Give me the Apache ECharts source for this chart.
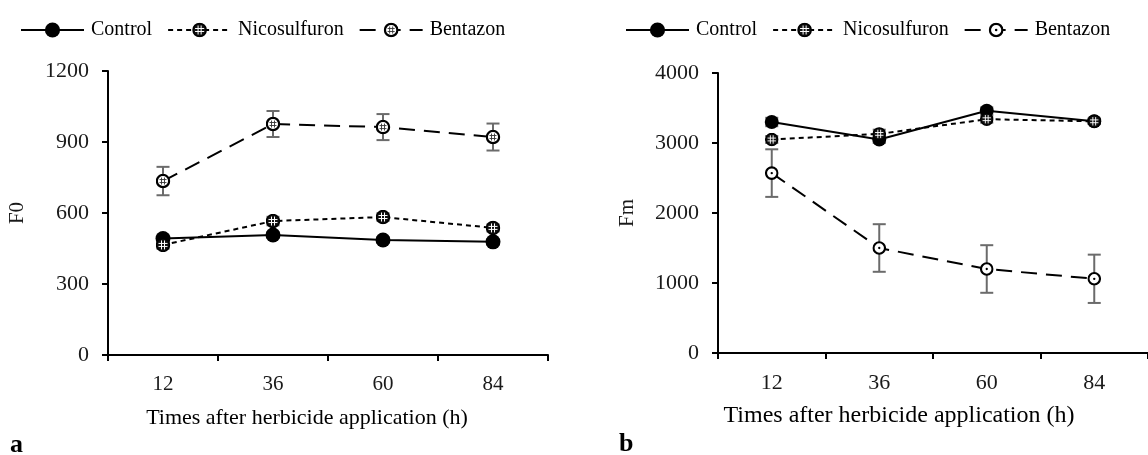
<!DOCTYPE html>
<html>
<head>
<meta charset="utf-8">
<script src="https://cdn.jsdelivr.net/npm/echarts@6/dist/echarts.min.js"></script>
<style>
html, body { margin: 0; padding: 0; background: #fff; }
#main { width: 1148px; height: 455px; }
</style>
</head>
<body>
<div id="main"></div>
<script>
// hours after application
var cats = ['12', '36', '60', '84'];

// panel a : F0
var f0Control = [492, 507, 486, 478];
var f0Nico = [465, 566, 583, 537];
var f0Benta = [735, 976, 963, 921];
var f0ControlErr = [14, 12, 12, 12];
var f0NicoErr = [16, 18, 16, 15];
var f0BentaErr = [60, 55, 55, 57];
var f0Ticks = { min: 0, max: 1200, interval: 300 };

// panel b : Fm
var fmControl = [3300, 3050, 3460, 3310];
var fmNico = [3050, 3130, 3340, 3310];
var fmBenta = [2570, 1500, 1200, 1060];
var fmControlErr = [60, 50, 50, 40];
var fmNicoErr = [50, 60, 50, 40];
var fmBentaErr = [340, 340, 340, 345];
var fmTicks = { min: 0, max: 4000, interval: 1000 };

var FONT = 'Liberation Serif';

var svgSym = function (body) {
    var s = "<svg xmlns='http://www.w3.org/2000/svg' width='30' height='30' viewBox='0 0 30 30'>" + body + "</svg>";
    return 'image://data:image/svg+xml;charset=utf-8,' + encodeURIComponent(s);
};
var hashLines = function (color, w, a, b) {
    return "<path d='M12 " + a + " V" + b + " M18 " + a + " V" + b + " M" + a + " 12 H" + b + " M" + a + " 18 H" + b + "' stroke='" + color + "' stroke-width='" + w + "' fill='none'/>";
};
var nicoSym = svgSym("<circle cx='15' cy='15' r='13' fill='#111' stroke='#000' stroke-width='3'/>" + hashLines('#fff', 2, 6, 24));
var bentaSymA = svgSym("<circle cx='15' cy='15' r='12.3' fill='#fff' stroke='#000' stroke-width='4.5'/>" + hashLines('#333', 1.8, 8, 22));
var bentaSymB = svgSym("<circle cx='15' cy='15' r='12.3' fill='#fff' stroke='#000' stroke-width='4.5'/><circle cx='15' cy='15' r='2.5' fill='#000'/>");

var errData = function (vals, errs) {
    var out = [];
    for (var i = 0; i < vals.length; i++) {
        out.push([i, vals[i] - errs[i], vals[i] + errs[i]]);
    }
    return out;
};

var renderErr = function (params, api) {
    var x = api.value(0);
    var top = api.coord([x, api.value(2)]);
    var bot = api.coord([x, api.value(1)]);
    var hw = 6.5;
    var st = { stroke: '#6b6b6b', lineWidth: 2 };
    return {
        type: 'group',
        children: [
            { type: 'line', shape: { x1: top[0], y1: top[1], x2: bot[0], y2: bot[1] }, style: st },
            { type: 'line', shape: { x1: top[0] - hw, y1: top[1], x2: top[0] + hw, y2: top[1] }, style: st },
            { type: 'line', shape: { x1: bot[0] - hw, y1: bot[1], x2: bot[0] + hw, y2: bot[1] }, style: st }
        ]
    };
};

var errSeries = function (idx, vals, errs) {
    return {
        type: 'custom',
        name: 'err',
        xAxisIndex: idx,
        yAxisIndex: idx,
        renderItem: renderErr,
        data: errData(vals, errs),
        z: 1,
        silent: true
    };
};

var lineSeries = function (idx, name, vals, sym, size, dash) {
    return {
        type: 'line',
        name: name,
        xAxisIndex: idx,
        yAxisIndex: idx,
        data: vals,
        symbol: sym,
        symbolSize: size,
        showAllSymbol: true,
        z: 3,
        itemStyle: { color: '#000' },
        lineStyle: { color: '#000', width: 2, type: dash },
        emphasis: { disabled: true }
    };
};

var xAxisOf = function (idx, labelSize, nameSize, nameGap, shift) {
    return {
        type: 'category',
        gridIndex: idx,
        data: cats,
        boundaryGap: true,
        name: 'Times after herbicide application (h)',
        nameLocation: 'middle',
        nameGap: nameGap,
        nameTextStyle: { fontFamily: FONT, fontSize: nameSize, color: '#000', padding: [0, shift, 0, 0] },
        axisLine: { show: true, lineStyle: { color: '#000', width: 2 } },
        axisTick: { show: true, length: 6, lineStyle: { color: '#000', width: 2 } },
        axisLabel: { fontFamily: FONT, fontSize: labelSize, color: '#1a1a1a', margin: 19 },
        splitLine: { show: false }
    };
};

var yAxisOf = function (idx, name, ticks, labelSize) {
    return {
        type: 'value',
        gridIndex: idx,
        min: ticks.min,
        max: ticks.max,
        interval: ticks.interval,
        name: name,
        nameLocation: 'middle',
        nameGap: 80,
        nameRotate: 90,
        nameTextStyle: { fontFamily: FONT, fontSize: 21, color: '#1a1a1a' },
        axisLine: { show: true, lineStyle: { color: '#000', width: 2 } },
        axisTick: { show: true, length: 6, lineStyle: { color: '#000', width: 2 } },
        axisLabel: {
            fontFamily: FONT, fontSize: labelSize, color: '#1a1a1a', margin: 19,
            formatter: function (v) { return String(v); }
        },
        splitLine: { show: false }
    };
};

var legendOf = function (left, names) {
    return {
        left: left,
        top: 20,
        padding: 0,
        itemWidth: 63,
        itemHeight: 19,
        itemGap: 15,
        data: names,
        formatter: function (n) { return n.trim(); },
        textStyle: { fontFamily: FONT, fontSize: 20, color: '#000', padding: [0, 0, 0, 2] },
        selectedMode: false
    };
};

var option = {
    animation: false,
    backgroundColor: '#fff',
    grid: [
        { left: 108, top: 71, width: 440, height: 284 },
        { left: 718, top: 73, width: 436, height: 280 }
    ],
    legend: [
        legendOf(20, ['Control', 'Nicosulfuron', 'Bentazon']),
        legendOf(625, ['Control ', 'Nicosulfuron ', 'Bentazon '])
    ],
    xAxis: [xAxisOf(0, 21, 22, 52, 42), xAxisOf(1, 22, 24, 51, 68)],
    yAxis: [yAxisOf(0, 'F0', f0Ticks, 22), yAxisOf(1, 'Fm', fmTicks, 22)],
    graphic: [
        { type: 'text', left: 10, top: 432, style: { text: 'a', fontFamily: FONT, fontSize: 26, fontWeight: 'bold', fill: '#000' } },
        { type: 'text', left: 619, top: 431, style: { text: 'b', fontFamily: FONT, fontSize: 26, fontWeight: 'bold', fill: '#000' } }
    ],
    series: [
        errSeries(0, f0Control, f0ControlErr),
        errSeries(0, f0Nico, f0NicoErr),
        errSeries(0, f0Benta, f0BentaErr),
        lineSeries(0, 'Control', f0Control, 'circle', 15, 'solid'),
        lineSeries(0, 'Nicosulfuron', f0Nico, nicoSym, 15, [5, 4]),
        lineSeries(0, 'Bentazon', f0Benta, bentaSymA, 15, [16, 9]),
        errSeries(1, fmControl, fmControlErr),
        errSeries(1, fmNico, fmNicoErr),
        errSeries(1, fmBenta, fmBentaErr),
        lineSeries(1, 'Control ', fmControl, 'circle', 14, 'solid'),
        lineSeries(1, 'Nicosulfuron ', fmNico, nicoSym, 14, [5, 4]),
        lineSeries(1, 'Bentazon ', fmBenta, bentaSymB, 14, [16, 9])
    ]
};

var chart = echarts.init(document.getElementById('main'));
chart.setOption(option);
</script>
</body>
</html>
